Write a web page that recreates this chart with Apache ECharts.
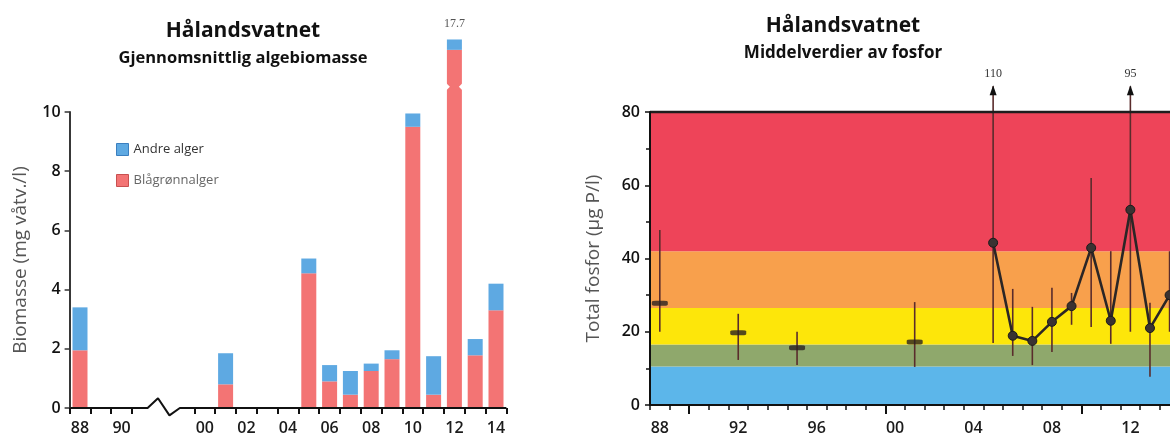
<!DOCTYPE html>
<html><head><meta charset="utf-8">
<script src="https://cdn.jsdelivr.net/npm/echarts@6/dist/echarts.min.js"></script>
<style>html,body{margin:0;padding:0;background:#fff}#c{width:1170px;height:441px}</style>
</head><body><div id="c"></div>
<script>
// ---------- Left chart: algebiomasse ----------
const bioCategories = ['88','89','90','91','','','00','01','02','03','04','05','06','07','08','09','10','11','12','13','14'];
const bioShownLabels = ['88','90','00','02','04','06','08','10','12','14'];
const blaagronnalger = [1.95,null,null,null,null,null,null,0.8,null,null,null,4.55,0.9,0.45,1.25,1.65,9.5,0.45,12.1,1.78,3.3];
const andreAlger     = [1.45,null,null,null,null,null,null,1.05,null,null,null,0.5,0.55,0.8,0.25,0.3,0.45,1.3,0.35,0.55,0.9];
const bioTrueTotals  = [null,null,null,null,null,null,null,null,null,null,null,null,null,null,null,null,null,null,'17.7',null,null];
const bioBarBreaks   = [[18, 10.85]];   // break mark on the truncated 2012 bar
const axisBreakLine  = [[-0.5,0],[3.25,0],[3.75,0.33],[4.3,-0.25],[4.8,0],[20.5,0]];
const bioSkippedTicks = [4,5];

// ---------- Right chart: fosfor ----------
const phYears = ['1988','1989','1990','1991','1992','1993','1994','1995','1996','1997','1998','1999','2000','2001','2002','2003','2004','2005','2006','2007','2008','2009','2010','2011','2012','2013','2014','2015'];
const phEarlyMeans = [['1988',27.8],['1992',19.7],['1995',15.6],['2001',17.2]];
const phLineMeans  = [['2005',44.3],['2006',18.9],['2007',17.5],['2008',22.7],['2009',27.0],['2010',42.9],['2011',23.0],['2012',53.3],['2013',21.0],['2014',30.0]];
const phRanges = [['1988',20,47.8],['1992',12.3,24.9],['1995',10.9,20],['2001',10.4,28.1],['2005',16.9,110],['2006',13.4,31.7],['2007',10.9,26.8],['2008',14.5,32],['2009',21.9,30.6],['2010',21.3,62],['2011',16.7,42],['2012',20,95],['2013',7.7,27.9],['2014',20,42]];
const phClassLimits = [0,10.5,16.5,26.5,42,80];
const phClassColors = ['#5cb6ea','#8fa86c','#fde60a','#f8a04c','#ee4459'];
const phFrameTop = [[-0.5,80],[27.5,80]];
const phCap = 87; // values above the axis are drawn as arrows ending here

const FONT = '"Open Sans", "Noto Sans", sans-serif';

const chart = echarts.init(document.getElementById('c'), null, {renderer:'canvas'});

const bandData = [];
for (let i = 0; i < phClassColors.length; i++) {
  bandData.push([{yAxis: phClassLimits[i], itemStyle:{color: phClassColors[i], opacity:1}}, {yAxis: phClassLimits[i+1]}]);
}

chart.setOption({
  animation: false,
  backgroundColor: '#fff',
  graphic: [
    {type:'text', x:243, y:31, style:{text:'Hålandsvatnet', font:'bold 21px '+FONT, fill:'#111', align:'center', verticalAlign:'middle'}},
    {type:'text', x:243, y:58, style:{text:'Gjennomsnittlig algebiomasse', font:'bold 16.5px '+FONT, fill:'#111', align:'center', verticalAlign:'middle'}},
    {type:'text', x:843, y:26, style:{text:'Hålandsvatnet', font:'bold 21px '+FONT, fill:'#111', align:'center', verticalAlign:'middle'}},
    {type:'text', x:843, y:53, style:{text:'Middelverdier av fosfor', font:'bold 17px '+FONT, fill:'#111', align:'center', verticalAlign:'middle'}}
  ],
  legend: {
    orient:'vertical', left:111, top:138, itemWidth:12, itemHeight:12, itemGap:18, icon:'rect',
    textStyle:{fontFamily:FONT, fontSize:13, color:'#444'},
    data:[{name:'Andre alger', textStyle:{color:'#333'}, itemStyle:{borderColor:'#3b7fbf', borderWidth:1}},
          {name:'Blågrønnalger', textStyle:{color:'#666'}, itemStyle:{borderColor:'#c85050', borderWidth:1}}]
  },
  grid: [
    {left:69.6, top:112, width:436.8, height:296, outerBoundsMode:'none', containLabel:false},
    {left:650, top:112, width:549, height:293, outerBoundsMode:'none', containLabel:false}
  ],
  xAxis: [
    {gridIndex:0, type:'category', data:bioCategories, z:10, position:'bottom',
     axisLine:{show:false},
     axisTick:{show:true, length:6, lineStyle:{color:'#111', width:2},
       interval:(i)=> bioSkippedTicks.indexOf(i) < 0},
     axisLabel:{interval:(i,v)=> bioShownLabels.indexOf(v) >= 0 && i%2===0, margin:12,
       fontFamily:FONT, fontSize:16, fontWeight:600, color:'#1b1b1b'}},
    {gridIndex:0, type:'value', min:-0.5, max:20.5, show:false, position:'bottom'},
    {gridIndex:1, type:'category', data:phYears, z:10, position:'bottom',
     axisLine:{show:true, onZero:false, lineStyle:{color:'#111', width:2}},
     axisTick:{show:true, interval:(i)=> true, length:5, lineStyle:{color:'#111', width:1.5}},
     axisLabel:{interval:(i)=> i%4===0, formatter:(v)=> v.slice(2), margin:15,
       fontFamily:FONT, fontSize:16, fontWeight:600, color:'#1b1b1b'}},
    {gridIndex:1, type:'category', data:phYears, z:11, position:'bottom', offset:0,
     axisLine:{show:false, onZero:false},
     axisTick:{show:true, length:9, lineStyle:{color:'#111', width:2},
       interval:(i)=> (Number(phYears[i]) % 10) === 0},
     axisLabel:{show:false}},
    {gridIndex:1, type:'value', min:-0.5, max:27.5, show:false, position:'top'}
  ],
  yAxis: [
    {gridIndex:0, type:'value', min:0, max:10, interval:2, z:10,
     name:'Biomasse (mg våtv./l)', nameLocation:'middle', nameGap:40,
     nameTextStyle:{fontFamily:FONT, fontSize:19, color:'#555'},
     axisLine:{show:true, onZero:false, lineStyle:{color:'#222', width:1.8}},
     axisTick:{show:true, length:5, lineStyle:{color:'#333', width:1.5}},
     splitLine:{show:false},
     axisLabel:{fontFamily:FONT, fontSize:16, fontWeight:600, color:'#111', margin:9}},
    {gridIndex:1, type:'value', min:0, max:80, interval:20, z:10,
     name:'Total fosfor (µg P/l)', nameLocation:'middle', nameGap:47,
     nameTextStyle:{fontFamily:FONT, fontSize:19, color:'#555'},
     axisLine:{show:true, onZero:false, lineStyle:{color:'#111', width:2}},
     axisTick:{show:true, length:5, lineStyle:{color:'#111', width:1.5}},
     minorTick:{show:true, splitNumber:2, length:4, lineStyle:{color:'#111', width:1.5}},
     splitLine:{show:false},
     axisLabel:{fontFamily:FONT, fontSize:16, fontWeight:600, color:'#111', margin:10}}
  ],
  series: [
    {name:'Blågrønnalger', type:'bar', stack:'bio', xAxisIndex:0, yAxisIndex:0, data:blaagronnalger,
     barWidth:15, clip:false, itemStyle:{color:'#f37474'}},
    {name:'Andre alger', type:'bar', stack:'bio', xAxisIndex:0, yAxisIndex:0, data:andreAlger,
     barWidth:15, clip:false, itemStyle:{color:'#5ea9e2'},
     label:{show:true, position:'top', distance:10,
       formatter:(p)=> bioTrueTotals[p.dataIndex] || '',
       fontFamily:'"Liberation Serif", serif', fontSize:12, color:'#555'}},
    // break notches on the truncated bar
    {type:'custom', xAxisIndex:0, yAxisIndex:0, data:bioBarBreaks, clip:false, z:6, silent:true,
     renderItem:(params, api)=>{
       const c = api.coord([api.value(0), api.value(1)]);
       const hw = 7.5;
       return {type:'group', children:[
         {type:'polygon', shape:{points:[[c[0]-hw-1, c[1]-4],[c[0]-hw+3, c[1]],[c[0]-hw-1, c[1]+4]]}, style:{fill:'#fff'}},
         {type:'polygon', shape:{points:[[c[0]+hw+1, c[1]-4],[c[0]+hw-3, c[1]],[c[0]+hw+1, c[1]+4]]}, style:{fill:'#fff'}}
       ]};
     }},
    {type:'line', xAxisIndex:1, yAxisIndex:0, data:axisBreakLine, clip:false, symbol:'none', silent:true,
     lineStyle:{color:'#111', width:2}, z:5},
    // classification bands
    {type:'line', xAxisIndex:2, yAxisIndex:1, data:[], silent:true, z:1,
     markArea:{silent:true, z:1, data:bandData}},
    // top frame line
    {type:'line', xAxisIndex:4, yAxisIndex:1, data:phFrameTop, clip:false, symbol:'none', silent:true,
     lineStyle:{color:'#1e1e1e', width:2.5}, z:9},
    // ranges (min-max)
    {type:'custom', xAxisIndex:2, yAxisIndex:1, data:phRanges, clip:false, z:6,
     encode:{x:0, y:[1,2]},
     renderItem:(params, api)=>{
       const x = api.value(0), lo = api.value(1), hi = api.value(2);
       const capped = hi > 80;
       const top = api.coord([x, capped ? phCap : hi]);
       const bot = api.coord([x, lo]);
       const ch = [{type:'line', shape:{x1:top[0], y1:top[1], x2:bot[0], y2:bot[1]},
                    style:{stroke:'#5a2c2c', lineWidth:1.6}}];
       if (capped) {
         ch.push({type:'polygon', shape:{points:[[top[0], top[1]-1],[top[0]-3.5, top[1]+9],[top[0]+3.5, top[1]+9]]}, style:{fill:'#111'}});
         ch.push({type:'text', style:{text:String(hi), x:top[0], y:top[1]-7, align:'center', verticalAlign:'bottom',
                  font:'12px "Liberation Serif", serif', fill:'#333'}});
       }
       return {type:'group', children:ch};
     }},
    {type:'scatter', xAxisIndex:2, yAxisIndex:1, data:phEarlyMeans, symbol:'roundRect', symbolSize:[16,5], z:7,
     itemStyle:{color:'#2b2222'}},
    {type:'line', xAxisIndex:2, yAxisIndex:1, data:phLineMeans, symbol:'circle', symbolSize:9, z:8, clip:false,
     lineStyle:{color:'#2b2626', width:2.6}, itemStyle:{color:'#3a3232', borderColor:'#1a1a1a', borderWidth:1}}
  ]
});
</script></body></html>
